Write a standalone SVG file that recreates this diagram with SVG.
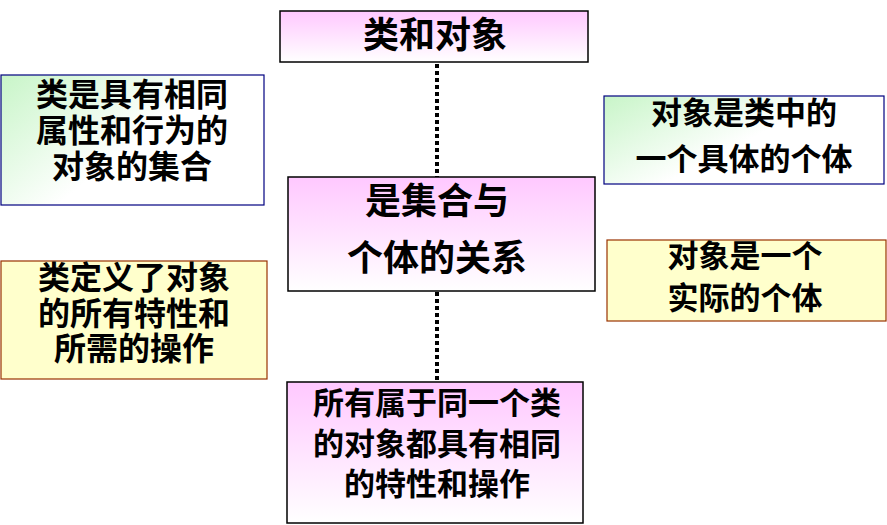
<svg xmlns="http://www.w3.org/2000/svg" width="887" height="525" viewBox="0 0 887 525">
  <defs>
    <linearGradient id="pink" x1="0" y1="0" x2="0" y2="1">
      <stop offset="0" stop-color="#ffc8ff"/>
      <stop offset="1" stop-color="#ffffff"/>
    </linearGradient>
    <linearGradient id="green" x1="0" y1="0" x2="1" y2="0.6">
      <stop offset="0" stop-color="#c8f5c8"/>
      <stop offset="0.6" stop-color="#ffffff"/>
      <stop offset="1" stop-color="#ffffff"/>
    </linearGradient>
    <style>
      .t { font-family: "Noto Sans CJK SC", "Noto Sans", sans-serif; font-weight: bold; fill: #000; text-anchor: middle; }
      .pk { fill: url(#pink); stroke: #000; stroke-width: 1.5; }
      .gr { fill: url(#green); stroke: #000080; stroke-width: 1.2; }
      .yl { fill: #ffffcc; stroke: #993300; stroke-width: 1.2; }
      .dot { stroke: #000; stroke-width: 4; stroke-dasharray: 4 3; fill: none; }
    </style>
  </defs>
  <rect width="887" height="525" fill="#fff"/>
  <g id="connectors">
    <line class="dot" x1="437" y1="64" x2="437" y2="177"/>
    <line class="dot" x1="437" y1="292" x2="437" y2="381"/>
  </g>
  <g id="top">
    <rect class="pk" x="280" y="11" width="308" height="51"/>
    <text class="t" x="435" y="48" font-size="36">类和对象</text>
  </g>
  <g id="left1">
    <rect class="gr" x="1" y="75" width="263" height="130"/>
    <text class="t" x="132" y="106" font-size="32">类是具有相同</text>
    <text class="t" x="132" y="142" font-size="32">属性和行为的</text>
    <text class="t" x="132" y="178" font-size="32">对象的集合</text>
  </g>
  <g id="right1">
    <rect class="gr" x="604" y="96" width="280" height="88"/>
    <text class="t" x="744" y="124" font-size="31">对象是类中的</text>
    <text class="t" x="744" y="170" font-size="31">一个具体的个体</text>
  </g>
  <g id="center">
    <rect class="pk" x="288" y="177" width="307" height="114"/>
    <text class="t" x="437" y="214" font-size="36">是集合与</text>
    <text class="t" x="437" y="271" font-size="36">个体的关系</text>
  </g>
  <g id="left2">
    <rect class="yl" x="1" y="261" width="266" height="118"/>
    <text class="t" x="134" y="289" font-size="32">类定义了对象</text>
    <text class="t" x="134" y="325" font-size="32">的所有特性和</text>
    <text class="t" x="134" y="360" font-size="32">所需的操作</text>
  </g>
  <g id="right2">
    <rect class="yl" x="607" y="240" width="279" height="81"/>
    <text class="t" x="745" y="267" font-size="31">对象是一个</text>
    <text class="t" x="745" y="309" font-size="31">实际的个体</text>
  </g>
  <g id="bottom">
    <rect class="pk" x="287" y="382" width="296" height="141"/>
    <text class="t" x="437" y="414" font-size="31">所有属于同一个类</text>
    <text class="t" x="437" y="455" font-size="31">的对象都具有相同</text>
    <text class="t" x="437" y="495" font-size="31">的特性和操作</text>
  </g>
</svg>
